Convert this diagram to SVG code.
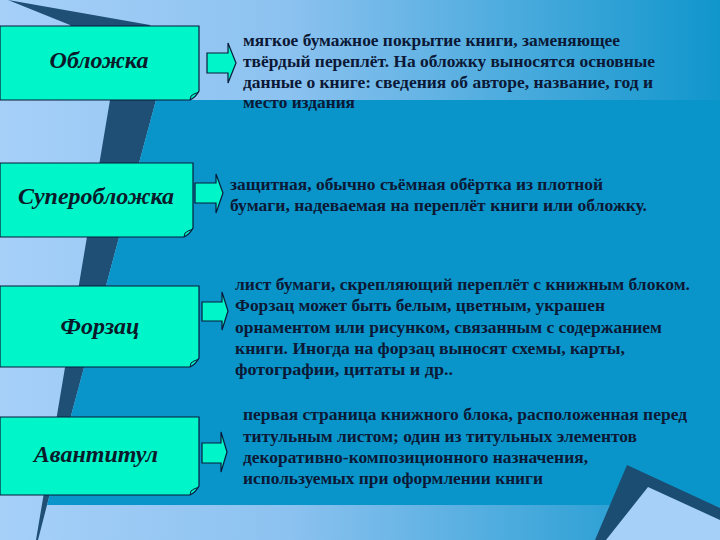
<svg xmlns="http://www.w3.org/2000/svg" width="720" height="540" viewBox="0 0 720 540">
<defs>
<linearGradient id="bg" x1="0" y1="0" x2="1" y2="0">
<stop offset="0" stop-color="#a6d0f8"/>
<stop offset="0.4" stop-color="#8cc2f0"/>
<stop offset="1" stop-color="#1096cc"/>
</linearGradient>
<style>
.box{fill:#00f5c8;stroke:#0a1a3a;stroke-width:1.2}
.fold{fill:none;stroke:#0a1a3a;stroke-width:1}
.arr{fill:#00f5c8;stroke:#0a1a3a;stroke-width:1.2}
.lbl{font-family:"Liberation Serif","Times New Roman",serif;font-style:italic;font-weight:bold;font-size:24px;fill:#0a1a2a;text-anchor:middle}
.txt{font-family:"Liberation Serif","Times New Roman",serif;font-weight:bold;font-size:17px;fill:#0b1836}
</style>
</defs>
<rect x="0" y="0" width="720" height="540" fill="url(#bg)"/>
<polygon points="8,0 150,25 156,100 47,505 38,540 36,540 110,100 70,25" fill="#1f4f74"/>
<polygon points="156,100 720,100 720,505 47,505" fill="#0995c9"/>
<polygon points="627,465 720,508 720,540 595,540" fill="#1b4d72"/>
<polygon points="648,487 720,520 720,540 606,540" fill="#a6d0f8"/>

<g id="node-oblozhka">
<path class="box" d="M0,26 H199 V91 Q196,97 190,100 H0 Z"/>
<path class="fold" d="M190,100 Q190,95 194,94 Q198,93 199,91"/>
<text class="lbl" x="99" y="68">Обложка</text>
</g>
<g id="node-superoblozhka">
<path class="box" d="M0,163 H193 V228 Q190,234 184,237 H0 Z"/>
<path class="fold" d="M184,237 Q184,232 188,231 Q192,230 193,228"/>
<text class="lbl" x="96" y="204">Суперобложка</text>
</g>
<g id="node-forzats">
<path class="box" d="M0,286 H199 V358 Q196,364 190,367 H0 Z"/>
<path class="fold" d="M190,367 Q190,362 194,361 Q198,360 199,358"/>
<text class="lbl" x="100" y="334">Форзац</text>
</g>
<g id="node-avantitul">
<path class="box" d="M0,417 H199 V486 Q196,492 190,495 H0 Z"/>
<path class="fold" d="M190,495 Q190,490 194,489 Q198,488 199,486"/>
<text class="lbl" x="96" y="462">Авантитул</text>
</g>

<g id="connectors">
<polygon class="arr" points="207,53 228,53 228,43 236,63 228,83 228,73 207,73"/>
<polygon class="arr" points="195,183 216,183 216,174 223,193 216,213 216,203 195,203"/>
<polygon class="arr" points="202,302 222,302 222,292 228,311 222,330 222,321 202,321"/>
<polygon class="arr" points="202,443 221,443 221,432 227,452 221,472 221,463 202,463"/>
</g>

<g id="desc-oblozhka">
<text class="txt" x="243" y="46" textLength="377" lengthAdjust="spacingAndGlyphs">мягкое бумажное покрытие книги, заменяющее</text>
<text class="txt" x="243" y="67" textLength="412" lengthAdjust="spacingAndGlyphs">твёрдый переплёт. На обложку выносятся основные</text>
<text class="txt" x="243" y="88" textLength="410" lengthAdjust="spacingAndGlyphs">данные о книге: сведения об авторе, название, год и</text>
<text class="txt" x="243" y="108" textLength="112" lengthAdjust="spacingAndGlyphs">место издания</text>
</g>
<g id="desc-superoblozhka">
<text class="txt" x="230" y="190" textLength="373" lengthAdjust="spacingAndGlyphs">защитная, обычно съёмная обёртка из плотной</text>
<text class="txt" x="230" y="211" textLength="417" lengthAdjust="spacingAndGlyphs">бумаги, надеваемая на переплёт книги или обложку.</text>
</g>
<g id="desc-forzats">
<text class="txt" x="235" y="290" textLength="455" lengthAdjust="spacingAndGlyphs">лист бумаги, скрепляющий переплёт с книжным блоком.</text>
<text class="txt" x="235" y="311" textLength="370" lengthAdjust="spacingAndGlyphs">Форзац может быть белым, цветным, украшен</text>
<text class="txt" x="235" y="333" textLength="427" lengthAdjust="spacingAndGlyphs">орнаментом или рисунком, связанным с содержанием</text>
<text class="txt" x="235" y="354" textLength="390" lengthAdjust="spacingAndGlyphs">книги. Иногда на форзац выносят схемы, карты,</text>
<text class="txt" x="235" y="375" textLength="218" lengthAdjust="spacingAndGlyphs">фотографии, цитаты и др..</text>
</g>
<g id="desc-avantitul">
<text class="txt" x="243" y="420" textLength="444" lengthAdjust="spacingAndGlyphs">первая страница книжного блока, расположенная перед</text>
<text class="txt" x="243" y="442" textLength="394" lengthAdjust="spacingAndGlyphs">титульным листом; один из титульных элементов</text>
<text class="txt" x="243" y="463" textLength="345" lengthAdjust="spacingAndGlyphs">декоративно-композиционного назначения,</text>
<text class="txt" x="243" y="484" textLength="300" lengthAdjust="spacingAndGlyphs">используемых при оформлении книги</text>
</g>
</svg>
